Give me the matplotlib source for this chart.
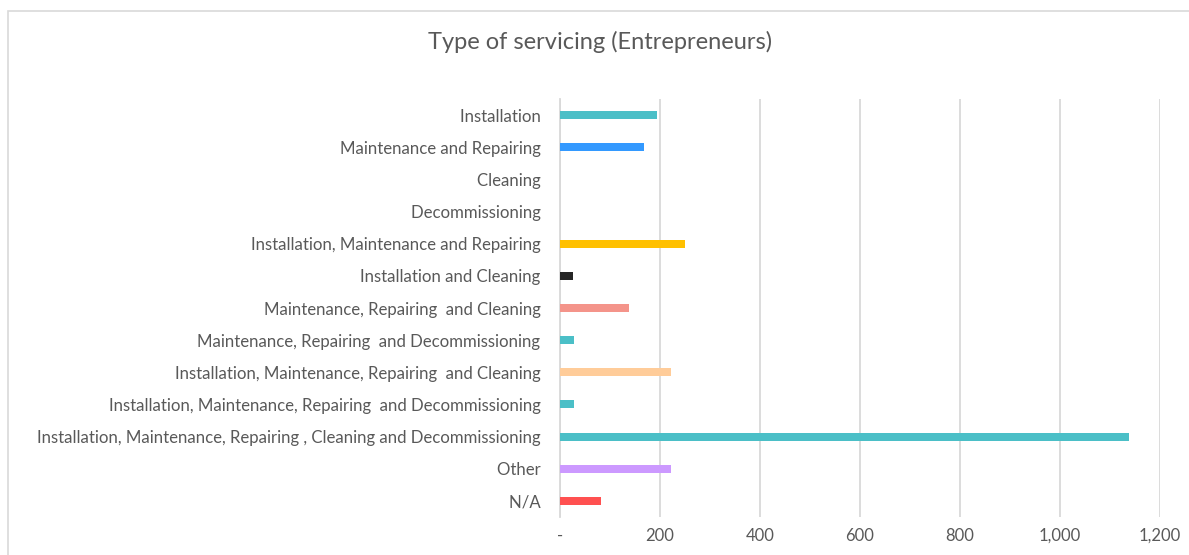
import matplotlib
matplotlib.use('Agg')
import matplotlib.pyplot as plt
from matplotlib.patches import Rectangle
from matplotlib.ticker import FuncFormatter

# servicing types, top to bottom
categories = [
    'Installation ',
    'Maintenance and Repairing ',
    'Cleaning ',
    'Decommissioning ',
    'Installation, Maintenance and Repairing ',
    'Installation and Cleaning ',
    'Maintenance, Repairing  and Cleaning ',
    'Maintenance, Repairing  and Decommissioning ',
    'Installation, Maintenance, Repairing  and Cleaning ',
    'Installation, Maintenance, Repairing  and Decommissioning ',
    'Installation, Maintenance, Repairing , Cleaning and Decommissioning ',
    'Other ',
    'N/A ',
]
counts = [193, 168, 0, 0, 249, 26, 138, 27, 222, 27, 1137, 222, 82]
bar_colors = ['#4BBFC7', '#3399FF', '#4BBFC7', '#4BBFC7', '#FFC000', '#262626',
              '#F4948A', '#4BBFC7', '#FFCC99', '#4BBFC7', '#4BBFC7', '#CC99FF',
              '#FF5050']
xticks = [0, 200, 400, 600, 800, 1000, 1200]

plt.rcParams['font.family'] = ['Lato', 'DejaVu Sans']
grey = '#595959'
grid = '#D9D9D9'

fig = plt.figure(figsize=(11.89, 5.55), dpi=100)
ax = fig.add_axes([560 / 1189, 1 - 517 / 555, 600 / 1189, 418 / 555])

pos = list(range(len(categories)))
ax.barh(pos, counts, height=0.25, color=bar_colors, zorder=3)

ax.set_ylim(len(categories) - 0.5, -0.5)
ax.set_xlim(0, 1200)
ax.set_yticks(pos)
ax.set_yticklabels(categories, fontsize=12.05, color=grey)
ax.set_xticks(xticks)
ax.xaxis.set_major_formatter(FuncFormatter(lambda v, p: '-' if v == 0 else f'{int(v):,}'))
ax.tick_params(axis='x', labelsize=12, labelcolor=grey, length=0, pad=8)
ax.tick_params(axis='y', length=0, pad=11)

for s in ['top', 'right', 'bottom']:
    ax.spines[s].set_visible(False)
ax.spines['left'].set_color(grid)
ax.spines['left'].set_linewidth(1.3)
ax.xaxis.grid(True, color=grid, linewidth=1.3, zorder=0)
ax.set_axisbelow(True)

fig.text(600 / 1189, 1 - 42 / 555, 'Type of servicing (Entrepreneurs)',
         ha='center', va='center', fontsize=17, color=grey)

# chart frame, open to the right and bottom
fig.patches.append(Rectangle((8 / 1189, -0.2), 1.2, 1.2 - 11 / 555,
                             transform=fig.transFigure, fill=False,
                             edgecolor=grid, linewidth=1.2))

fig.savefig('out.png', dpi=100)
